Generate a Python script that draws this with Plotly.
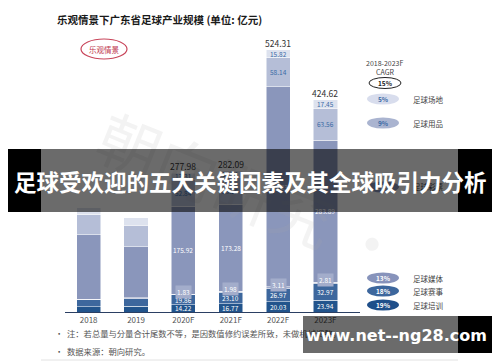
import plotly.graph_objects as go

# ---------------- data ----------------
years = ["2018", "2019", "2020F", "2021F", "2022F", "2023F"]
training = [10.02, 11.10, 14.22, 16.77, 20.03, 23.94]      # 足球培训
events = [14.25, 15.90, 19.86, 23.10, 26.97, 32.97]        # 足球赛事
media = [1.51, 1.30, 1.83, 1.98, 3.11, 2.81]               # 足球媒体
lottery = [128.54, 102.21, 175.92, 173.28, 400.23, 283.89]  # 足球彩票
goods = [40.61, 43.04, 52.84, 53.25, 58.14, 63.56]         # 足球用品
venues = [13.68, 15.26, 13.31, 13.71, 15.82, 17.45]        # 足球场地
totals = [208.71, 188.81, 277.98, 282.09, 524.31, 424.62]
series_names = ["足球培训", "足球赛事", "足球媒体", "足球彩票", "足球用品", "足球场地"]
series_cagr = ["19%", "18%", "13%", "17%", "9%", "5%"]
total_cagr = "15%"

title = "乐观情景下广东省足球产业规模 (单位: 亿元)"
scenario = "乐观情景"
note1 = "注：若总量与分量合计尾数不等，是因数值修约误差所致，未做机械调整。"
note2 = "数据来源：朝向研究。"
banner = "足球受欢迎的五大关键因素及其全球吸引力分析"
site = "www.net--ng28.com"
mark = "朝向研究 ·"

series = [training, events, media, lottery, goods, venues]
colors = ["#22548c", "#3d679d", "#a3adcb", "#8a96bb", "#b5bed7", "#dde2ee"]
label_colors = ["white", "white", "white", "white", "#3b6aa5", "#3b6aa5"]
legend_fill = ["#1f4f8a", "#3d679d", "#8793bb", "#8a96bb", "#aab4d0", "#d8dded"]
legend_y = [305, 291, 278, 187, 123, 99]

FONT = "Noto Sans CJK SC"
W, H = 500, 362


def px(x):
    return x / W


def py(y):
    return 1 - y / H


def ptext(x, y, text, size, color, xanchor="center", family=FONT, **kw):
    return dict(xref="paper", yref="paper", x=px(x), y=py(y), xanchor=xanchor, yanchor="middle",
                text=text, showarrow=False, font=dict(family=family, size=size, color=color), **kw)


fig = go.Figure()
for name, vals, col in zip(series_names, series, colors):
    fig.add_trace(go.Bar(x=years, y=vals, name=name,
                         marker=dict(color=col, line=dict(color="white", width=0.5))))

ann = []
shapes = []

# faint background watermark
ann.append(ptext(252, 192, mark, 62, "rgba(170,170,170,0.14)", textangle=22))

# segment labels
for si, vals in enumerate(series):
    for i, yr in enumerate(years):
        base = sum(series[k][i] for k in range(si))
        v = vals[i]
        if si == 2:
            ann.append(dict(x=yr, y=base + v / 2, text=f"{v:.2f}", showarrow=False, yshift=3,
                            xanchor="center", yanchor="middle", bgcolor=colors[2], borderpad=1,
                            font=dict(family=FONT, size=6.5, color="white")))
        else:
            ann.append(dict(x=yr, y=base + v / 2, text=f"{v:.2f}", showarrow=False,
                            xanchor="center", yanchor="middle",
                            font=dict(family=FONT, size=6.5, color=label_colors[si])))

# totals
for yr, t in zip(years, totals):
    ann.append(dict(x=yr, y=t, text=f"{t:.2f}", showarrow=False, yshift=7, xanchor="center",
                    yanchor="middle", font=dict(family=FONT, size=8.5, color="#333333")))

# title + scenario tag
ann.append(ptext(55, 20, f"<b>{title}</b>", 10.5, "#1a1a1a", xanchor="left"))
shapes.append(dict(type="circle", xref="paper", yref="paper", x0=px(81), x1=px(127), y0=py(39), y1=py(59),
                   line=dict(color="#c8455a", width=1.2), fillcolor="rgba(0,0,0,0)"))
ann.append(ptext(104, 49, scenario, 7.5, "#c0394f"))

# CAGR legend
ann.append(ptext(385, 63, "2018-2023F", 7, "#444444"))
ann.append(ptext(385, 72, "CAGR", 7, "#444444"))
shapes.append(dict(type="circle", xref="paper", yref="paper", x0=px(369), x1=px(401), y0=py(77.5), y1=py(88.5),
                   line=dict(color="#222222", width=1), fillcolor="white"))
ann.append(ptext(385, 83, f"<b>{total_cagr}</b>", 6.5, "#222222"))
for si in range(len(series_names)):
    yy = legend_y[si]
    shapes.append(dict(type="circle", xref="paper", yref="paper", x0=px(367), x1=px(399),
                       y0=py(yy - 5.5), y1=py(yy + 5.5), line=dict(width=0), fillcolor=legend_fill[si]))
    ann.append(ptext(383, yy, f"<b>{series_cagr[si]}</b>", 6.5,
                     label_colors[si] if si >= 4 else "white"))
    ann.append(ptext(411, yy, series_names[si], 7.5, "#444444", xanchor="left"))

# notes
ann.append(ptext(53, 333, "•  " + note1, 8.3, "#555555", xanchor="left"))
ann.append(ptext(53, 351, "•  " + note2, 8.3, "#555555", xanchor="left"))
shapes.append(dict(type="line", xref="paper", yref="paper", x0=px(41), x1=px(458), y0=py(360), y1=py(360),
                   line=dict(color="#e2e2e2", width=1)))


def box(x0, x1, y0, y1, color):
    return dict(xref="paper", yref="paper", x=px(x0), y=py(y0), xanchor="left", yanchor="top",
                text=" ", showarrow=False, width=x1 - x0, height=y1 - y0, bgcolor=color,
                borderpad=0, borderwidth=0, font=dict(size=1))


# banner overlay
ann.append(box(41, 458, 149, 212, "rgba(0,0,0,0.58)"))
ann.append(box(8, 41, 149, 212, "black"))
ann.append(box(458, 492, 149, 212, "black"))
ann.append(ptext(250, 181, f"<b>{banner}</b>", 22.5, "white"))

# site overlay
ann.append(box(303, 458, 316, 353, "rgba(0,0,0,0.58)"))
ann.append(box(458, 492, 316, 353, "black"))
ann.append(ptext(396, 335, f"<b>{site}</b>", 16, "white", family="DejaVu Sans"))

fig.update_layout(
    width=W, height=H, margin=dict(l=0, r=0, t=0, b=0),
    paper_bgcolor="white", plot_bgcolor="rgba(0,0,0,0)",
    barmode="stack", bargap=0.49, showlegend=False,
    font=dict(family=FONT),
    xaxis=dict(domain=[px(65), px(360)], range=[-0.5, 5.73], showline=True, linecolor="#2b3f63",
               linewidth=1.2, ticks="", showgrid=False, tickfont=dict(family=FONT, size=8, color="#555555"),
               fixedrange=True),
    yaxis=dict(domain=[py(312), py(40)], range=[0, 544], visible=False, showgrid=False, fixedrange=True),
    annotations=ann, shapes=shapes,
)

fig.write_html("out.html", config={"displayModeBar": False},
               post_script="document.body.style.margin='0';document.body.style.overflow='hidden';")
